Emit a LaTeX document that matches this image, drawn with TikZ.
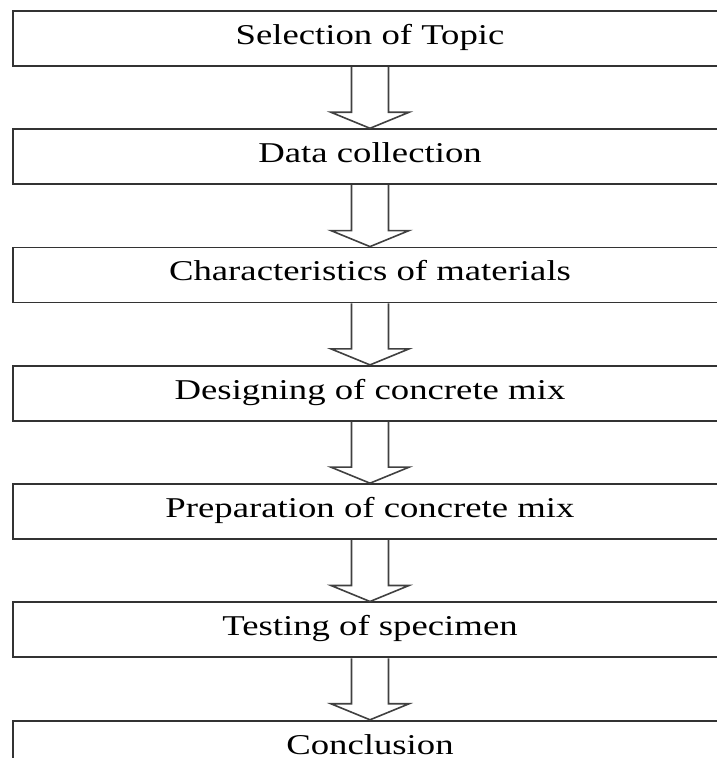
\documentclass[tikz,border=0pt]{standalone}
\usepackage{fontspec}
\setmainfont{Liberation Serif}[FakeStretch=1.28]
\usetikzlibrary{positioning, calc}

\begin{document}
\begin{tikzpicture}[x=1pt, y=1pt,
	stage/.style={draw=black!80, line width=1.8pt, rectangle,
		minimum width=714pt, minimum height=55pt, inner sep=0pt,
		text height=19.6pt, text depth=8pt,
		font=\fontsize{28.7}{34}\selectfont},
	flow/.style={draw=black!75, line width=1.6pt, line join=miter}]
	\def \shaft {18.5}
	\def \head {39}
	\def \tip {16}

	\useasboundingbox (0,0) rectangle (716,758);

	\node[stage, anchor=north] (topic) at (370,748) {Selection of Topic};
	\node[stage, below=61.5pt of topic]  (data)    {Data collection};
	\node[stage, below=61.5pt of data]   (charac)  {Characteristics of materials};
	\node[stage, below=61.5pt of charac] (design)  {Designing of concrete mix};
	\node[stage, below=61.5pt of design] (prep)    {Preparation of concrete mix};
	\node[stage, below=61.5pt of prep]   (testing) {Testing of specimen};
	\node[stage, below=61.5pt of testing] (concl)  {Conclusion};

	% hollow arrows between the stages
	\foreach \a/\b in {topic/data, data/charac, charac/design,
		design/prep, prep/testing, testing/concl} {
		\draw[flow] ($(\a.south)+(-\shaft,0)$) -- ($(\b.north)+(-\shaft,\tip)$)
			-- ($(\b.north)+(-\head,\tip)$) -- (\b.north)
			-- ($(\b.north)+(\head,\tip)$) -- ($(\b.north)+(\shaft,\tip)$)
			-- ($(\a.south)+(\shaft,0)$);
	}
\end{tikzpicture}
\end{document}
